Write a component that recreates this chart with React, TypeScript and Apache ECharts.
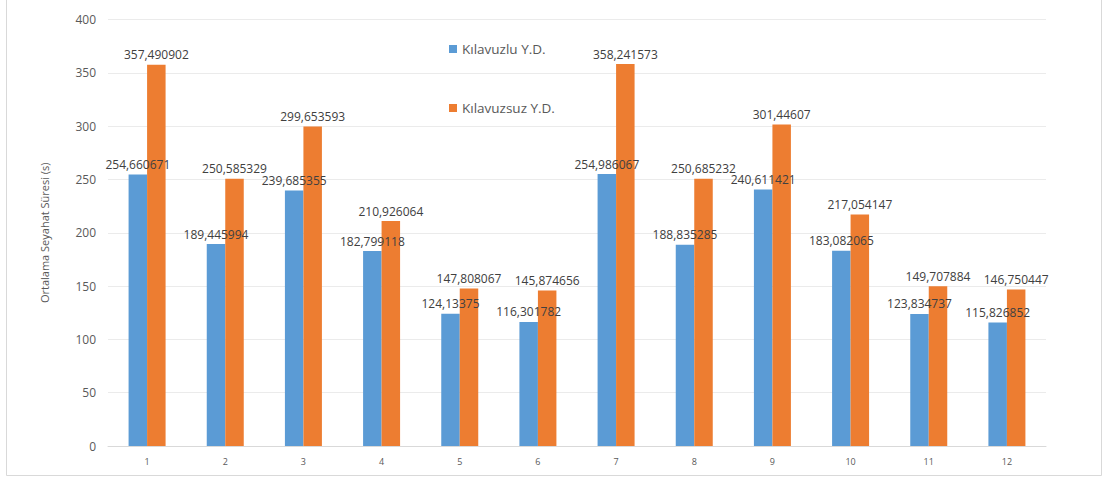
import React, { useEffect, useRef } from "react";
import * as echarts from "echarts";

const categories = ["1", "2", "3", "4", "5", "6", "7", "8", "9", "10", "11", "12"];
const seriesNames = ["Kılavuzlu Y.D.", "Kılavuzsuz Y.D."];
const guidedValues = [
  254.660671, 189.445994, 239.685355, 182.799118, 124.13375, 116.301782,
  254.986067, 188.835285, 240.611421, 183.082065, 123.834737, 115.826852,
];
const unguidedValues = [
  357.490902, 250.585329, 299.653593, 210.926064, 147.808067, 145.874656,
  358.241573, 250.685232, 301.44607, 217.054147, 149.707884, 146.750447,
];
const yAxisTitle = "Ortalama Seyahat Süresi (s)";

const FONT = "'Open Sans', 'Liberation Sans', sans-serif";

export default function App() {
  const ref = useRef<HTMLDivElement>(null);
  useEffect(() => {
    if (!ref.current) return;
    const chart = echarts.init(ref.current, null, { renderer: "svg" });
    const label = {
      show: true,
      position: "top",
      distance: 4,
      color: "#404040",
      fontSize: 12,
      fontFamily: FONT,
      formatter: (p: any) => String(p.value).replace(".", ","),
    };
    chart.setOption({
      animation: false,
      textStyle: { fontFamily: FONT },
      graphic: [
        {
          type: "rect",
          shape: { x: 6.5, y: -2, width: 1095, height: 477.5 },
          style: { fill: "none", stroke: "#D9D9D9", lineWidth: 1 },
          silent: true,
        },
      ],
      legend: {
        orient: "vertical",
        left: 444,
        top: 37,
        itemGap: 45,
        itemWidth: 8,
        itemHeight: 8,
        icon: "rect",
        textStyle: { color: "#595959", fontSize: 13.5, fontFamily: FONT },
        data: seriesNames,
      },
      grid: { left: 108, right: 57, top: 19.5, bottom: 33, containLabel: false },
      xAxis: {
        type: "category",
        data: categories,
        axisLine: { lineStyle: { color: "#D9D9D9" } },
        axisTick: { show: false },
        axisLabel: { color: "#595959", fontSize: 9, margin: 11, fontFamily: FONT },
      },
      yAxis: {
        type: "value",
        min: 0,
        max: 400,
        interval: 50,
        name: yAxisTitle,
        nameLocation: "middle",
        nameGap: 58,
        nameTextStyle: { color: "#595959", fontSize: 11, fontFamily: FONT },
        axisLine: { show: false },
        axisTick: { show: false },
        axisLabel: { color: "#595959", fontSize: 12, margin: 12, fontFamily: FONT },
        splitLine: { lineStyle: { color: "#EBEBEB" } },
      },
      series: [
        {
          name: seriesNames[0],
          type: "bar",
          data: guidedValues,
          barWidth: 18.5,
          barGap: "0%",
          itemStyle: { color: "#5B9BD5" },
          label,
        },
        {
          name: seriesNames[1],
          type: "bar",
          data: unguidedValues,
          barWidth: 18.5,
          barGap: "0%",
          itemStyle: { color: "#ED7D31" },
          label,
        },
      ],
    });
    return () => chart.dispose();
  }, []);
  return (
    <div
      ref={ref}
      style={{ position: "absolute", left: 0, top: 0, width: 1103, height: 479, background: "#fff" }}
    />
  );
}
